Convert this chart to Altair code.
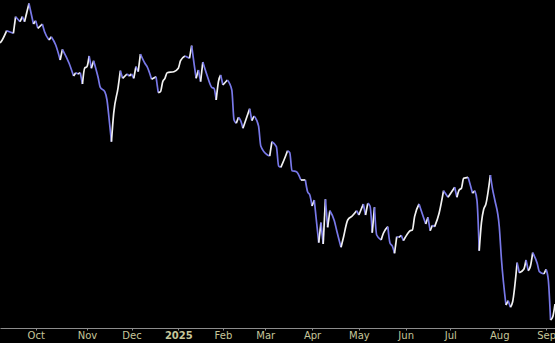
import altair as alt
import pandas as pd

# trading-day index (0 = first session shown) and closing level (arbitrary units)
day = [0, 1, 3, 6, 7, 9, 10, 11, 13, 15, 16, 17, 19, 20, 22, 23, 25, 27, 28, 31,
       33, 34, 35, 36, 37, 38, 39, 40, 41, 42, 44, 45, 47, 48, 49, 50, 51, 53, 54, 55,
       57, 58, 59, 60, 61, 62, 63, 65, 66, 68, 70, 71, 72, 73, 74, 75, 78, 80, 81, 83,
       85, 86, 87, 88, 89, 90, 91, 93, 95, 96, 97, 98, 99, 100, 102, 104, 105, 106, 107, 108,
       109, 112, 113, 114, 116, 117, 120, 121, 122, 124, 125, 126, 128, 129, 130, 131, 133, 135, 137, 138,
       139, 140, 141, 142, 143, 144, 145, 146, 147, 148, 150, 151, 153, 154, 156, 158, 160, 161, 163, 164,
       165, 166, 167, 168, 169, 171, 172, 174, 175, 176, 177, 178, 179, 180, 181, 183, 184, 185, 186, 188,
       189, 191, 192, 193, 194, 195, 197, 199, 201, 204, 205, 206, 207, 208, 210, 211, 212, 213, 214, 215,
       216, 217, 218, 220, 221, 222, 224, 225, 227, 228, 229, 230, 232, 233, 235, 236, 237, 238, 239, 241,
       242, 244, 245, 246, 247, 248, 249]
level = [285, 288, 297.3, 294.7, 311.3, 306.3, 311.3, 306.3, 324.5, 304, 307.3, 299.7, 304, 296.3, 288, 291.3, 283, 268, 278.7, 264.7,
         252, 255.3, 254, 255.3, 244, 260, 261.3, 272, 259.7, 267.3, 250.7, 240.7, 236.3, 228, 208, 186.3, 214.7, 240.7, 257.3, 249.7,
         254, 252, 254, 249.7, 261.3, 256.3, 274, 264.7, 261.3, 248.7, 251.3, 235.3, 236.3, 246.3, 249.7, 255.3, 256.3, 259.7, 267.3, 272,
         269.7, 282.3, 265.3, 249.7, 258, 246.3, 266, 252, 240.7, 239.7, 228, 246.3, 253, 243, 248, 238, 208, 204.7, 210.7, 207.3,
         199.7, 219.3, 207.3, 212, 202, 182, 173, 172, 186.3, 181.3, 162, 160.7, 171.3, 177.3, 175.3, 157.3, 156.3, 148, 148, 136.3,
         133, 122, 128, 106.3, 85.3, 105.3, 84, 128.7, 100.7, 117.3, 107.3, 98, 80.7, 89.7, 108, 112, 117.3, 113, 124, 113,
         124.7, 122, 95.3, 120.7, 93, 88, 94.7, 101.3, 84.7, 82, 74.7, 91.3, 90.7, 92.7, 87.3, 94.7, 97.3, 98, 111.3, 124,
         117.3, 104, 110.7, 97.3, 102.7, 101.3, 114.7, 137.3, 130.7, 140.7, 130.7, 138, 139.7, 149.7, 150.7, 143, 134.7, 137.3, 127.3, 77.3,
         105.3, 118.7, 124, 153, 138.7, 128, 101.3, 68, 23, 27.3, 20.7, 26.3, 65.3, 55.3, 58.7, 68, 57.3, 62, 75.3, 64.7,
         56.3, 54, 58.7, 48, 8, 11.3, 24]

month_ticks = [16, 39, 59, 80, 100, 119, 140, 161, 182, 202, 224, 245]
month_labels = ["Oct", "Nov", "Dec", "2025", "Feb", "Mar", "Apr", "May", "Jun", "Jul", "Aug", "Sep"]

# split the series into runs of rising / falling segments
rows = []
run = 0
prev_dir = None
for i in range(len(day) - 1):
    d = "up" if level[i + 1] >= level[i] else "down"
    if d != prev_dir:
        run += 1
        rows.append({"day": day[i], "level": level[i], "run": run, "dir": d})
        prev_dir = d
    rows.append({"day": day[i + 1], "level": level[i + 1], "run": run, "dir": d})
df = pd.DataFrame(rows)

tick_arr = "[" + ",".join(str(t) for t in month_ticks) + "]"
lab_arr = "[" + ",".join("'" + s + "'" for s in month_labels) + "]"
label_expr = f"{lab_arr}[indexof({tick_arr}, datum.value)]"

chart = alt.Chart(df).mark_line(interpolate="monotone", strokeWidth=1.7).encode(
    x=alt.X("day:Q",
            scale=alt.Scale(domain=[0, 249], nice=False, zero=False),
            axis=alt.Axis(values=month_ticks, labelExpr=label_expr, title=None, grid=False,
                          domainColor="#8c8c8c", tickColor="#8c8c8c", tickSize=2,
                          labelColor="#c6c69a", labelFont="DejaVu Sans", labelFontSize=10,
                          labelPadding=0,
                          labelFontWeight=alt.condition("datum.value == 80", alt.value("bold"), alt.value("normal")),
                          labelFlush=False)),
    y=alt.Y("level:Q", scale=alt.Scale(domain=[0, 328], nice=False, zero=False), axis=None),
    color=alt.Color("dir:N", scale=alt.Scale(domain=["up", "down"], range=["#f2f2f2", "#7878e8"]), legend=None),
    detail="run:N",
    order="day:Q",
).properties(
    width=555, height=328, background="black",
    padding={"left": 0, "top": 0, "right": 0, "bottom": 15},
    autosize=alt.AutoSizeParams(type="none"),
).configure_view(stroke=None)

chart.save("out.html", embed_options={"renderer": "svg", "actions": False})
